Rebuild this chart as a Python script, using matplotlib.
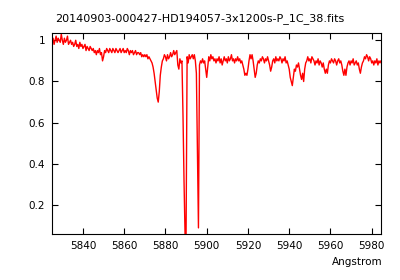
import numpy as np
import matplotlib
matplotlib.use("Agg")
import matplotlib.pyplot as plt

wave_start = 5825.0
wave_step = 0.5
flux = [
    # 5825 - 5834.5
    0.99, 1.01, 0.98, 1.00, 1.02, 0.99, 1.01, 1.00, 0.99, 1.03, 1.00, 0.98, 1.01, 0.99, 1.00, 1.02, 0.98, 0.99, 1.00, 0.98,
    # 5835 - 5844.5
    0.99, 0.97, 0.98, 1.00, 0.97, 0.98, 0.96, 0.99, 0.97, 0.98, 0.96, 0.97, 0.98, 0.95, 0.97, 0.96, 0.95, 0.97, 0.96, 0.95,
    # 5845 - 5854.5
    0.96, 0.94, 0.95, 0.93, 0.95, 0.94, 0.96, 0.93, 0.94, 0.90, 0.92, 0.95, 0.94, 0.96, 0.95, 0.94, 0.96, 0.95, 0.94, 0.96,
    # 5855 - 5864.5
    0.95, 0.94, 0.96, 0.95, 0.94, 0.95, 0.96, 0.94, 0.95, 0.96, 0.94, 0.95, 0.94, 0.96, 0.95, 0.93, 0.95, 0.94, 0.95, 0.93,
    # 5865 - 5874.5
    0.94, 0.95, 0.93, 0.94, 0.94, 0.93, 0.94, 0.92, 0.93, 0.92, 0.93, 0.92, 0.93, 0.91, 0.92, 0.91, 0.90, 0.89, 0.87, 0.84,
    # 5875 - 5884.5
    0.80, 0.76, 0.72, 0.70, 0.75, 0.83, 0.87, 0.90, 0.91, 0.93, 0.92, 0.90, 0.93, 0.91, 0.92, 0.94, 0.92, 0.93, 0.95, 0.93,
    # 5885 - 5894.5  (Na D2)
    0.94, 0.95, 0.88, 0.86, 0.91, 0.89, 0.90, 0.64, 0.32, 0.06, 0.06, 0.92, 0.89, 0.93, 0.91, 0.92, 0.93, 0.91, 0.93, 0.90,
    # 5895 - 5904.5  (Na D1)
    0.84, 0.47, 0.09, 0.88, 0.90, 0.89, 0.91, 0.89, 0.90, 0.86, 0.82, 0.87, 0.92, 0.90, 0.93, 0.91, 0.92, 0.90, 0.91, 0.89,
    # 5905 - 5914.5
    0.91, 0.90, 0.92, 0.89, 0.91, 0.88, 0.90, 0.92, 0.90, 0.91, 0.89, 0.92, 0.90, 0.91, 0.93, 0.90, 0.91, 0.89, 0.91, 0.90,
    # 5915 - 5924.5
    0.92, 0.90, 0.91, 0.89, 0.90, 0.88, 0.86, 0.83, 0.84, 0.83, 0.86, 0.90, 0.93, 0.91, 0.93, 0.90, 0.86, 0.82, 0.84, 0.88,
    # 5925 - 5934.5
    0.90, 0.89, 0.91, 0.90, 0.92, 0.91, 0.89, 0.91, 0.90, 0.92, 0.90, 0.88, 0.85, 0.87, 0.90, 0.91, 0.89, 0.92, 0.90, 0.91,
    # 5935 - 5944.5
    0.90, 0.92, 0.91, 0.89, 0.91, 0.90, 0.92, 0.89, 0.90, 0.88, 0.86, 0.82, 0.80, 0.78, 0.82, 0.86, 0.85, 0.88, 0.87, 0.89,
    # 5945 - 5954.5
    0.86, 0.83, 0.81, 0.84, 0.80, 0.86, 0.89, 0.90, 0.92, 0.90, 0.91, 0.89, 0.92, 0.91, 0.90, 0.88, 0.90, 0.89, 0.91, 0.88,
    # 5955 - 5964.5
    0.90, 0.89, 0.87, 0.89, 0.86, 0.84, 0.86, 0.84, 0.88, 0.90, 0.89, 0.91, 0.90, 0.89, 0.91, 0.90, 0.88, 0.90, 0.91, 0.89,
    # 5965 - 5974.5
    0.90, 0.88, 0.85, 0.83, 0.86, 0.83, 0.87, 0.89, 0.90, 0.88, 0.90, 0.89, 0.91, 0.88, 0.89, 0.90, 0.88, 0.89, 0.86, 0.84,
    # 5975 - 5984.5
    0.87, 0.89, 0.90, 0.92, 0.91, 0.93, 0.92, 0.90, 0.92, 0.91, 0.89, 0.90, 0.88, 0.90, 0.89, 0.91, 0.88, 0.90, 0.89, 0.90,
]
wave = wave_start + wave_step * np.arange(len(flux))

xticks = [5840, 5860, 5880, 5900, 5920, 5940, 5960, 5980]
yticks = [0.2, 0.4, 0.6, 0.8, 1.0]
ytick_labels = ["0.2", "0.4", "0.6", "0.8", "1"]
title = "20140903-000427-HD194057-3x1200s-P_1C_38.fits"

fig = plt.figure(figsize=(4, 2.8), dpi=100)
ax = fig.add_axes([0.13, 0.164, 0.8225, 0.718])
ax.plot(wave, flux, color="#ff0000", lw=1.0)

ax.set_xlim(5825, 5984.5)
ax.set_ylim(0.06, 1.035)
ax.set_xticks(xticks)
ax.set_yticks(yticks)
ax.set_yticklabels(ytick_labels)
ax.tick_params(direction="in", length=4, width=0.8, top=True, right=True,
               labelsize=7.5, pad=5)
for s in ax.spines.values():
    s.set_linewidth(0.8)

fig.text(0.5, 0.935, title, ha="center", va="center", fontsize=8)
fig.text(0.957, 0.065, "Angstrom", ha="right", va="center", fontsize=7.5)

fig.savefig("out.png", dpi=100)
